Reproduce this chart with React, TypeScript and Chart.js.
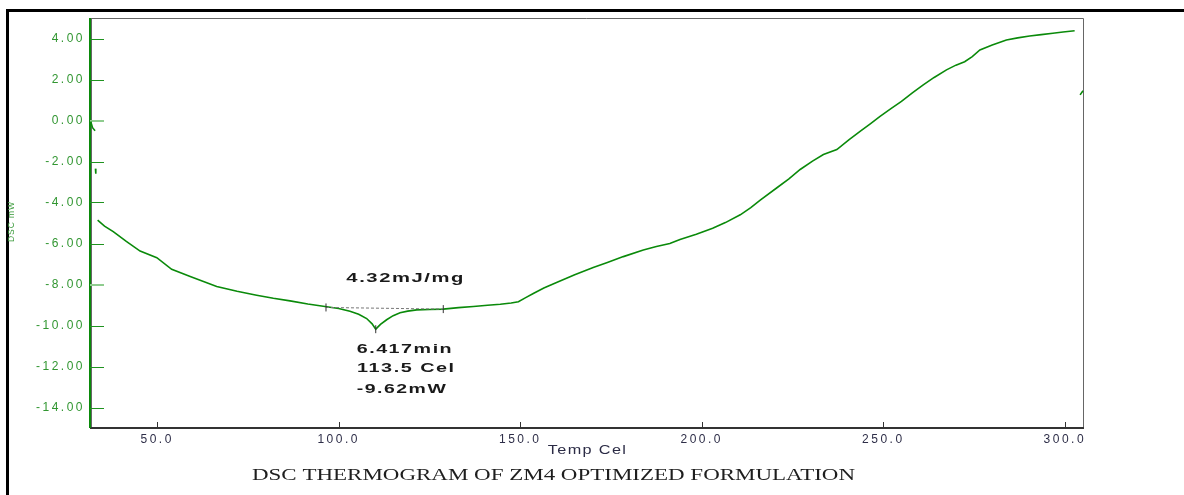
import { useEffect, useRef } from 'react';
import { Chart, registerables } from 'chart.js';

Chart.register(...registerables);

// ---- data ----
const TEMP = [
  33.6, 35.5, 37.9, 41.5, 45.3, 49.9, 54.0, 59.1, 66.4, 72.0, 77.4, 82.0, 86.6, 91.5, 96.2,
  100.0, 103.1, 105.5, 107.7, 109.2, 110.2, 111.5, 113.2, 115.0, 116.9, 119.0, 121.5, 125.0,
  128.8, 133.0, 137.1, 141.0, 144.5, 147.5, 149.5, 151.5, 153.6, 156.5, 160.0, 165.0, 170.1,
  174.0, 178.4, 183.9, 187.5, 191.2, 194.0, 198.5, 203.0, 206.5, 210.6, 213.5, 216.1, 220.7,
  224.0, 227.1, 230.5, 233.5, 237.2, 240.5, 243.6, 246.5, 249.1, 252.0, 255.0, 258.0, 261.0,
  264.0, 267.4, 270.0, 272.4, 274.5, 276.6, 280.0, 283.9, 287.0, 290.3, 293.5, 296.7, 299.5,
  302.7,
];
const HEAT = [
  -4.86, -5.15, -5.42, -5.9, -6.37, -6.69, -7.26, -7.61, -8.1, -8.33, -8.52, -8.67, -8.8, -8.95,
  -9.07, -9.17, -9.3, -9.45, -9.66, -9.92, -10.18, -9.95, -9.72, -9.52, -9.38, -9.3, -9.24,
  -9.22, -9.2, -9.13, -9.07, -9.01, -8.96, -8.9, -8.84, -8.64, -8.44, -8.17, -7.9, -7.52, -7.17,
  -6.93, -6.64, -6.32, -6.15, -6.0, -5.8, -5.55, -5.26, -4.98, -4.6, -4.25, -3.88, -3.28, -2.85,
  -2.39, -1.98, -1.66, -1.42, -0.95, -0.53, -0.15, 0.2, 0.57, 0.93, 1.35, 1.74, 2.1, 2.47, 2.7,
  2.87, 3.12, 3.44, 3.68, 3.93, 4.03, 4.12, 4.19, 4.26, 4.32, 4.38,
];
// small stray trace fragments (null = break)
const STRAY_T = [31.7, 32.2, 32.9, null, 33.0, 33.1, null, 304.2, 305.0];
const STRAY_H = [-0.05, -0.35, -0.5, null, -2.35, -2.6, null, 1.25, 1.45];

// integration baseline and peak markers
const BASE_T = [96.5, 128.8];
const BASE_H = [-9.12, -9.2];
const MARK_T = [96.5, 110.2, 128.8];
const MARK_H = [-9.12, -10.18, -9.2];

const X_TICKS = [50, 100, 150, 200, 250, 300];
const Y_TICKS = [-14, -12, -10, -8, -6, -4, -2, 0, 2, 4];
const X_MIN = 31.5;
const X_MAX = 305;
const Y_MIN = -15;
const Y_MAX = 5;

const ENERGY_LABEL = '4.32mJ/mg';
const PEAK_LABELS = ['6.417min', '113.5 Cel', '-9.62mW'];
const X_TITLE = 'Temp Cel';
const Y_TITLE = 'DSC mW';
const CHART_TITLE = 'DSC THERMOGRAM OF ZM4 OPTIMIZED FORMULATION';

const toPts = (xs: (number | null)[], ys: (number | null)[]) =>
  xs.map((x, i) => ({ x: x as any, y: ys[i] as any }));

function drawStretched(
  ctx: CanvasRenderingContext2D,
  text: string,
  cx: number,
  cy: number,
  width: number,
  font: string,
  color: string,
  spacing = 0,
) {
  ctx.save();
  (ctx as any).letterSpacing = spacing + 'px';
  ctx.font = font;
  ctx.fillStyle = color;
  ctx.textAlign = 'center';
  ctx.textBaseline = 'middle';
  const w = ctx.measureText(text).width - spacing;
  ctx.translate(cx + spacing / 2, cy);
  ctx.scale(width / w, 1);
  ctx.fillText(text, 0, 0);
  ctx.restore();
}

const decorPlugin = {
  id: 'decor',
  beforeDraw(chart: any) {
    const ctx: CanvasRenderingContext2D = chart.ctx;
    ctx.save();
    ctx.fillStyle = '#ffffff';
    ctx.fillRect(0, 0, chart.width, chart.height);
    // outer black frame (top and left visible)
    ctx.fillStyle = '#000000';
    ctx.fillRect(6, 9, chart.width - 6, 3);
    ctx.fillRect(6, 9, 3, chart.height - 9);
    ctx.restore();
    (ctx as any).letterSpacing = '2.5px';
  },
  beforeDatasetsDraw(chart: any) {
    const ctx: CanvasRenderingContext2D = chart.ctx;
    (ctx as any).letterSpacing = '0px';
    const { left, right, top, bottom } = chart.chartArea;
    const xs = chart.scales.x;
    const ys = chart.scales.y;
    ctx.save();
    // top and right frame
    ctx.strokeStyle = '#666666';
    ctx.lineWidth = 1;
    ctx.beginPath();
    ctx.moveTo(left, top + 0.5);
    ctx.lineTo(right + 0.5, top + 0.5);
    ctx.lineTo(right + 0.5, bottom);
    ctx.stroke();
    // gray inner left line
    ctx.beginPath();
    ctx.moveTo(left + 1.5, top);
    ctx.lineTo(left + 1.5, bottom);
    ctx.stroke();
    // bottom axis
    ctx.strokeStyle = '#333333';
    ctx.lineWidth = 2;
    ctx.beginPath();
    ctx.moveTo(left, bottom);
    ctx.lineTo(right + 1, bottom);
    ctx.stroke();
    // x ticks (inward)
    ctx.lineWidth = 1;
    X_TICKS.forEach((v) => {
      const px = Math.round(xs.getPixelForValue(v)) + 0.5;
      ctx.beginPath();
      ctx.moveTo(px, bottom);
      ctx.lineTo(px, bottom - 6);
      ctx.stroke();
    });
    // left axis green
    ctx.strokeStyle = '#0a8a0a';
    ctx.lineWidth = 2;
    ctx.beginPath();
    ctx.moveTo(left, top);
    ctx.lineTo(left, bottom);
    ctx.stroke();
    // y ticks (inward)
    Y_TICKS.forEach((v) => {
      const py = Math.round(ys.getPixelForValue(v));
      const light = v === 0 || v === -8;
      ctx.strokeStyle = light ? '#8fcc8f' : '#1f931f';
      ctx.lineWidth = light ? 2 : 1;
      ctx.beginPath();
      ctx.moveTo(left, py + (light ? 0 : 0.5));
      ctx.lineTo(left + 14, py + (light ? 0 : 0.5));
      ctx.stroke();
    });
    ctx.restore();
  },
  afterDatasetsDraw(chart: any) {
    const ctx: CanvasRenderingContext2D = chart.ctx;
    const xs = chart.scales.x;
    const ys = chart.scales.y;
    const { bottom } = chart.chartArea;
    const bold = 'bold 13px "Liberation Sans", Arial, sans-serif';
    const ink = '#1a1a1a';
    drawStretched(ctx, ENERGY_LABEL, xs.getPixelForValue(118.3), ys.getPixelForValue(-7.68), 117, bold, ink, 1);
    drawStretched(ctx, PEAK_LABELS[0], xs.getPixelForValue(118.1), ys.getPixelForValue(-11.15), 95, bold, ink, 1);
    drawStretched(ctx, PEAK_LABELS[1], xs.getPixelForValue(118.5), ys.getPixelForValue(-12.07), 97, bold, ink, 1);
    drawStretched(ctx, PEAK_LABELS[2], xs.getPixelForValue(117.3), ys.getPixelForValue(-13.1), 89, bold, ink, 1);
    drawStretched(ctx, X_TITLE, xs.getPixelForValue(168.4), bottom + 23, 78, '12px "Liberation Sans", Arial, sans-serif', '#2b2b45', 1);
    drawStretched(ctx, CHART_TITLE, 553.5, 476, 603, '16px "Liberation Serif", "Times New Roman", serif', '#1e1e1e', 0);
    // y axis title (rotated)
    ctx.save();
    ctx.translate(12, 222);
    ctx.rotate(-Math.PI / 2);
    drawStretched(ctx, Y_TITLE, 0, 0, 40, '9px "Liberation Sans", Arial, sans-serif', '#3a9a3a', 1);
    ctx.restore();
    (ctx as any).letterSpacing = '0px';
  },
};

export default function App() {
  const ref = useRef<HTMLCanvasElement | null>(null);

  useEffect(() => {
    document.body.style.margin = '0';
    const canvas = ref.current;
    if (!canvas) return;
    const chart = new Chart(canvas, {
      type: 'line',
      data: {
        datasets: [
          {
            data: toPts(MARK_T, MARK_H),
            showLine: false,
            pointStyle: 'line',
            rotation: 90,
            pointRadius: 4,
            pointBorderColor: '#333333',
            pointBorderWidth: 1,
            borderColor: '#333333',
          },
          {
            data: toPts(BASE_T, BASE_H),
            borderColor: '#777777',
            borderWidth: 1,
            borderDash: [3, 2],
            pointRadius: 0,
          },
          {
            data: toPts(TEMP, HEAT),
            borderColor: '#0a8a0a',
            borderWidth: 1.6,
            pointRadius: 0,
            tension: 0,
          },
          {
            data: toPts(STRAY_T, STRAY_H),
            borderColor: '#0a8a0a',
            borderWidth: 1.6,
            pointRadius: 0,
            spanGaps: false,
            clip: false as any,
          },
        ],
      },
      options: {
        animation: false,
        responsive: false,
        devicePixelRatio: 1,
        layout: { padding: { left: 0, top: 18, right: 101, bottom: 0 } },
        plugins: { legend: { display: false }, tooltip: { enabled: false }, title: { display: false } },
        scales: {
          x: {
            type: 'linear',
            min: X_MIN,
            max: X_MAX,
            grid: { display: false, drawTicks: false },
            border: { display: false },
            afterBuildTicks: (s: any) => {
              s.ticks = X_TICKS.map((v) => ({ value: v }));
            },
            afterFit: (s: any) => {
              s.height = 67;
            },
            ticks: {
              autoSkip: false,
              maxRotation: 0,
              padding: 4,
              color: '#2e2e48',
              font: { family: '"Liberation Sans", Arial, sans-serif', size: 12 },
              callback: (v: any) => Number(v).toFixed(1),
            },
          },
          y: {
            type: 'linear',
            min: Y_MIN,
            max: Y_MAX,
            grid: { display: false, drawTicks: false },
            border: { display: false },
            afterBuildTicks: (s: any) => {
              s.ticks = Y_TICKS.map((v) => ({ value: v }));
            },
            afterFit: (s: any) => {
              s.width = 90;
            },
            ticks: {
              autoSkip: false,
              padding: 5,
              color: '#319631',
              font: { family: '"Liberation Sans", Arial, sans-serif', size: 12 },
              callback: (v: any) => Number(v).toFixed(2),
            },
          },
        },
      },
      plugins: [decorPlugin],
    } as any);
    return () => chart.destroy();
  }, []);

  return (
    <div style={{ width: 1184, height: 495, position: 'relative' }}>
      <canvas ref={ref} width={1184} height={495} style={{ display: 'block' }} />
    </div>
  );
}
